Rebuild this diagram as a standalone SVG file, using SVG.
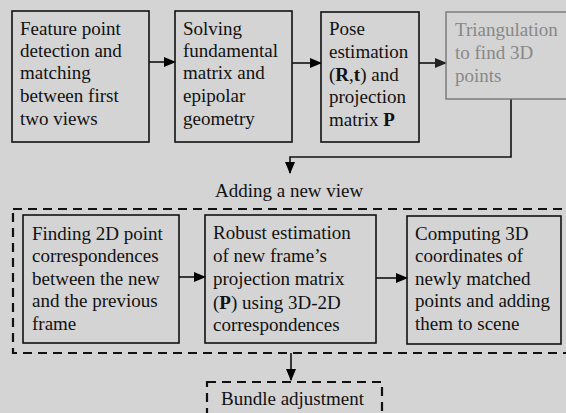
<svg xmlns="http://www.w3.org/2000/svg" width="566" height="413" viewBox="0 0 566 413">
<defs>
<marker id="ah" markerWidth="12" markerHeight="10" refX="11" refY="5" orient="auto" markerUnits="userSpaceOnUse"><path d="M0,0 L12,5 L0,10 z" fill="#000"/></marker>
<marker id="ahg" markerWidth="12" markerHeight="10" refX="11" refY="5" orient="auto" markerUnits="userSpaceOnUse"><path d="M0,0 L12,5 L0,10 z" fill="#222"/></marker>
</defs>
<style>
text{font-family:"Liberation Serif","Times New Roman",serif;font-size:19px;fill:#111}
.box{fill:none;stroke:#111;stroke-width:1.6}
.gbox{fill:none;stroke:#777;stroke-width:1.4}
.g{fill:#888}
.dash{fill:none;stroke:#111;stroke-width:2.2;stroke-dasharray:9 6}
.conn{fill:none;stroke:#111;stroke-width:1.6}
.b{font-weight:bold}
.lbl{font-size:19px}
</style>
<rect width="566" height="413" fill="#d4d4d4"/>
<g id="connectors">
<line class="conn" x1="149" y1="62" x2="175" y2="62" marker-end="url(#ah)"/>
<line class="conn" x1="292" y1="63" x2="321" y2="63" marker-end="url(#ah)"/>
<line class="conn" x1="419" y1="63" x2="446" y2="63" stroke="#444" marker-end="url(#ahg)"/>
<polyline class="conn" points="511,99 511,157 290,157 290,173" stroke="#555" marker-end="url(#ah)"/>
<line class="conn" x1="179" y1="277" x2="205" y2="277" marker-end="url(#ah)"/>
<line class="conn" x1="376" y1="278" x2="407" y2="278" marker-end="url(#ah)"/>
<line class="conn" x1="291" y1="353" x2="291" y2="380" marker-end="url(#ah)"/>
</g>
<g id="n1">
<rect class="box" x="12" y="11" width="137" height="131"/>
<text x="20" y="35">Feature point</text>
<text x="20" y="57">detection and</text>
<text x="20" y="79">matching</text>
<text x="20" y="102">between first</text>
<text x="20" y="125">two views</text>
</g>
<g id="n2">
<rect class="box" x="175" y="11" width="117" height="131"/>
<text x="183" y="35">Solving</text>
<text x="183" y="57">fundamental</text>
<text x="183" y="79">matrix and</text>
<text x="183" y="102">epipolar</text>
<text x="183" y="125">geometry</text>
</g>
<g id="n3">
<rect class="box" x="321" y="12" width="98" height="130"/>
<text x="329" y="35">Pose</text>
<text x="329" y="58">estimation</text>
<text x="329" y="81">(<tspan class="b">R</tspan>,<tspan class="b">t</tspan>) and</text>
<text x="329" y="103">projection</text>
<text x="329" y="126">matrix <tspan class="b">P</tspan></text>
</g>
<g id="n4">
<rect class="gbox" x="446" y="12" width="130" height="87"/>
<text class="g" x="455" y="36">Triangulation</text>
<text class="g" x="455" y="59">to find 3D</text>
<text class="g" x="455" y="82">points</text>
</g>
<g id="group">
<text class="lbl" x="215" y="197">Adding a new view</text>
<rect class="dash" x="13" y="209" width="560" height="144"/>
</g>
<g id="n5">
<rect class="box" x="23" y="215" width="156" height="128"/>
<text x="32" y="240">Finding 2D point</text>
<text x="32" y="262">correspondences</text>
<text x="32" y="285">between the new</text>
<text x="32" y="307">and the previous</text>
<text x="32" y="330">frame</text>
</g>
<g id="n6">
<rect class="box" x="205" y="215" width="171" height="128"/>
<text x="213" y="239">Robust estimation</text>
<text x="213" y="262">of new frame’s</text>
<text x="213" y="285">projection matrix</text>
<text x="213" y="309">(<tspan class="b">P</tspan>) using 3D-2D</text>
<text x="213" y="331">correspondences</text>
</g>
<g id="n7">
<rect class="box" x="407" y="216" width="154" height="128"/>
<text x="415" y="240">Computing 3D</text>
<text x="415" y="262">coordinates of</text>
<text x="415" y="285">newly matched</text>
<text x="415" y="307">points and adding</text>
<text x="415" y="330">them to scene</text>
</g>
<g id="n8">
<rect class="dash" x="207" y="382" width="175" height="45" stroke-width="1.8"/>
<text class="lbl" x="221" y="405">Bundle adjustment</text>
</g>
</svg>
